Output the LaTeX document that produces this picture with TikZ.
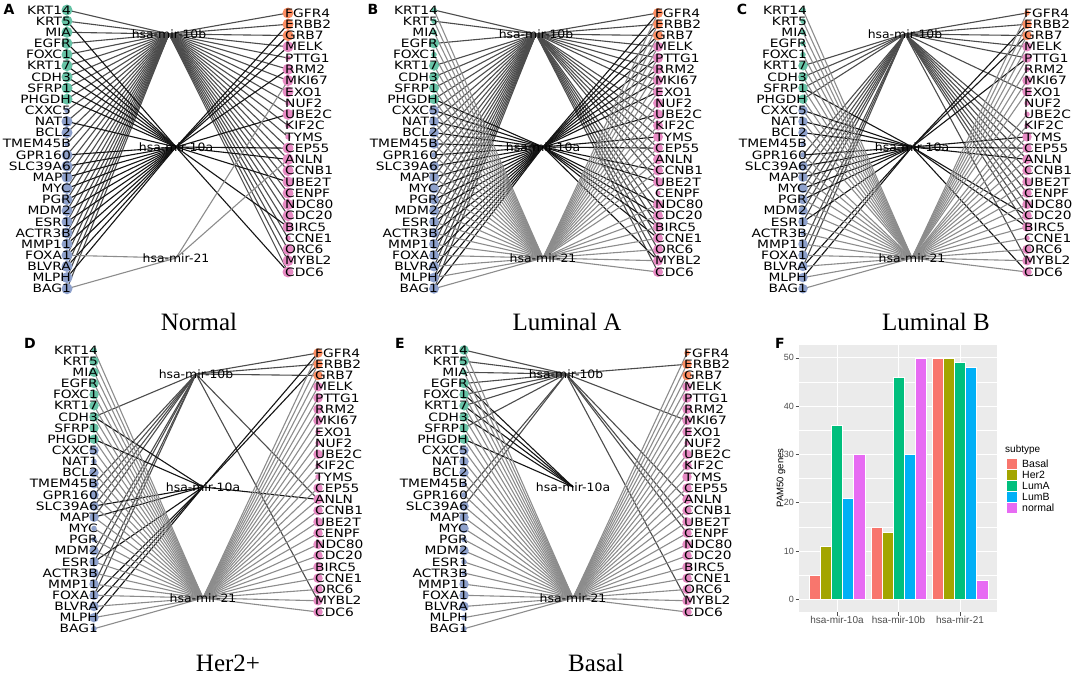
\documentclass[tikz,border=0pt]{standalone}
\usepackage{fontspec}
\usepackage{tikz}
\usetikzlibrary{positioning}
\setmainfont{Liberation Serif}
\newfontfamily\genefont[FakeStretch=1.2]{DejaVu Sans}
\newfontfamily\mirfont[FakeStretch=1.08]{DejaVu Sans}
\newfontfamily\plotfont{Liberation Sans}
\newfontfamily\tagfont{DejaVu Sans}

\definecolor{lgreen}{HTML}{66C2A5}
\definecolor{lblue}{HTML}{8DA0CB}
\definecolor{rorange}{HTML}{FC8D62}
\definecolor{rpink}{HTML}{E78AC3}
\definecolor{st0}{HTML}{F8766D}
\definecolor{st1}{HTML}{A3A500}
\definecolor{st2}{HTML}{00BF7D}
\definecolor{st3}{HTML}{00B0F6}
\definecolor{st4}{HTML}{E76BF3}
\definecolor{panelgray}{HTML}{EBEBEB}
\definecolor{axisgray}{HTML}{4D4D4D}

\pgfdeclarelayer{edges}
\pgfsetlayers{edges,main}

\tikzset{
  gene/.style={circle,inner sep=0pt,draw=none},
  glab/.style={font=\genefont\fontsize{11.5}{12}\selectfont,inner sep=0pt},
  mir/.style={font=\mirfont\fontsize{11.5}{12}\selectfont,inner sep=0pt},
  ttl/.style={font=\fontsize{25}{28}\selectfont,inner sep=0pt},
  tag/.style={font=\tagfont\bfseries\fontsize{14}{14}\selectfont,inner sep=0pt},
  e10b/.style={draw=black!70,line width=1.1pt},
  e10a/.style={draw=black!92,line width=1.1pt},
  e21/.style={draw=black!45,line width=1.1pt},
  tick/.style={font=\plotfont\fontsize{9}{10}\selectfont,text=axisgray,inner sep=0pt},
  key/.style={font=\plotfont\fontsize{10.5}{11}\selectfont,inner sep=0pt,anchor=west},
}

\def\allpam{KRT14,KRT5,MIA,EGFR,FOXC1,KRT17,CDH3,SFRP1,PHGDH,CXXC5,NAT1,BCL2,TMEM45B,GPR160,SLC39A6,MAPT,MYC,PGR,MDM2,ESR1,ACTR3B,MMP11,FOXA1,BLVRA,MLPH,BAG1,FGFR4,ERBB2,GRB7,MELK,PTTG1,RRM2,MKI67,EXO1,NUF2,UBE2C,KIF2C,TYMS,CEP55,ANLN,CCNB1,UBE2T,CENPF,NDC80,CDC20,BIRC5,CCNE1,ORC6,MYBL2,CDC6}

% genes drawn with a small dot in one subtype
\newcommand\marksmall[2]{\foreach \g in {#2} {\expandafter\gdef\csname pamsmall-#1-\g\endcsname{}}}
\newcommand\pickgsz[3]{\ifcsname pamsmall-#1-#2\endcsname\def\gsz{5.5pt}\else\def\gsz{#3}\fi}

% gene columns and the three miRNAs of one subtype
\newcommand\pamnodes[4]{%
\begin{scope}[shift={#2}]
  \foreach \g [count=\i from 0] in {KRT14,KRT5,MIA,EGFR,FOXC1,KRT17,CDH3,SFRP1,PHGDH} {
    \pickgsz{#1}{\g}{#4}
    \node[gene,fill=lgreen,minimum size=\gsz] (#1-\g) at (0,{10+11.15*\i}) {};}
  \foreach \g [count=\i from 9] in {CXXC5,NAT1,BCL2,TMEM45B,GPR160,SLC39A6,MAPT,MYC,PGR,MDM2,ESR1,ACTR3B,MMP11,FOXA1,BLVRA,MLPH,BAG1} {
    \pickgsz{#1}{\g}{#4}
    \node[gene,fill=lblue,minimum size=\gsz] (#1-\g) at (0,{10+11.15*\i}) {};}
  \foreach \g [count=\i from 0] in {FGFR4,ERBB2,GRB7} {
    \pickgsz{#1}{\g}{#4}
    \node[gene,fill=rorange,minimum size=\gsz] (#1-\g) at (#3,{13+11.26*\i}) {};}
  \foreach \g [count=\i from 3] in {MELK,PTTG1,RRM2,MKI67,EXO1,NUF2,UBE2C,KIF2C,TYMS,CEP55,ANLN,CCNB1,UBE2T,CENPF,NDC80,CDC20,BIRC5,CCNE1,ORC6,MYBL2,CDC6} {
    \pickgsz{#1}{\g}{#4}
    \node[gene,fill=rpink,minimum size=\gsz] (#1-\g) at (#3,{13+11.26*\i}) {};}
  \foreach \g in {KRT14,KRT5,MIA,EGFR,FOXC1,KRT17,CDH3,SFRP1,PHGDH,CXXC5,NAT1,BCL2,TMEM45B,GPR160,SLC39A6,MAPT,MYC,PGR,MDM2,ESR1,ACTR3B,MMP11,FOXA1,BLVRA,MLPH,BAG1}
    \node[glab,anchor=east] (#1-\g-t) at ([xshift=4pt]#1-\g.center) {\g};
  \foreach \g in {FGFR4,ERBB2,GRB7,MELK,PTTG1,RRM2,MKI67,EXO1,NUF2,UBE2C,KIF2C,TYMS,CEP55,ANLN,CCNB1,UBE2T,CENPF,NDC80,CDC20,BIRC5,CCNE1,ORC6,MYBL2,CDC6}
    \node[glab,anchor=west] (#1-\g-t) at ([xshift=-3pt]#1-\g.center) {\g};
  \node[mir] (#1-m10b) at (102,34) {hsa-mir-10b};
  \node[mir] (#1-m10a) at (109,147) {hsa-mir-10a};
  \node[mir] (#1-m21) at (109,258) {hsa-mir-21};
\end{scope}}

% links of one miRNA
\newcommand\pamedges[4]{%
\foreach \g in #4 {\draw[#3] (#1-\g.center) -- (#1-#2.center);}}

\marksmall{A}{CXXC5,TMEM45B,PTTG1,NUF2,KIF2C,TYMS,CCNE1}
\marksmall{B}{KRT14,KRT5,MIA,FOXC1,GPR160,CENPF}
\marksmall{C}{KRT14,KRT5,MIA,EGFR,FOXC1,TMEM45B,GPR160,ACTR3B,FGFR4,RRM2,NUF2,UBE2C,KIF2C,CCNE1}
\marksmall{D}{KRT14,NAT1,MYC,PGR,BAG1,EXO1,NUF2,KIF2C,TYMS}
\marksmall{E}{MIA,TMEM45B,GPR160,PGR,ESR1,ACTR3B,MLPH,BAG1,FGFR4,NUF2}

\begin{document}
\begin{tikzpicture}[x=1pt,y=-1pt]
\useasboundingbox (0,0) rectangle (1074,678);

\pamnodes{A}{(67,0)}{221}{11pt}
\pamnodes{B}{(434,0)}{224}{10pt}
\pamnodes{C}{(803,0)}{224}{9.5pt}
\pamnodes{D}{(94,340)}{224}{9.5pt}
\pamnodes{E}{(464,340)}{223}{9.5pt}

\begin{pgfonlayer}{edges}
% Normal
\pamedges{A}{m10b}{e10b}{\allpam}
\pamedges{A}{m10a}{e10a}{{KRT5,EGFR,FOXC1,KRT17,CDH3,SFRP1,PHGDH,NAT1,GPR160,SLC39A6,MAPT,MYC,PGR,MDM2,ESR1,ACTR3B,MMP11,FOXA1,BLVRA,MLPH,ERBB2,GRB7,MELK,RRM2,UBE2C,CEP55,ANLN,UBE2T,BIRC5,CDC6}}
\pamedges{A}{m21}{e21}{{FOXA1,BAG1,MKI67,ANLN}}
% Luminal A
\pamedges{B}{m10b}{e10b}{{KRT14,KRT5,EGFR,KRT17,CDH3,SFRP1,PHGDH,CXXC5,NAT1,BCL2,TMEM45B,GPR160,SLC39A6,MAPT,MYC,PGR,MDM2,ESR1,ACTR3B,MMP11,FOXA1,BLVRA,MLPH,BAG1,FGFR4,ERBB2,GRB7,MELK,PTTG1,RRM2,MKI67,EXO1,UBE2C,KIF2C,TYMS,CEP55,ANLN,CCNB1,UBE2T,NDC80,CDC20,BIRC5,CCNE1,ORC6,MYBL2,CDC6}}
\pamedges{B}{m10a}{e10a}{{PHGDH,CXXC5,NAT1,BCL2,TMEM45B,GPR160,SLC39A6,MAPT,MYC,PGR,MDM2,ESR1,ACTR3B,MMP11,FOXA1,BLVRA,MLPH,BAG1,FGFR4,ERBB2,GRB7,MELK,PTTG1,RRM2,MKI67,EXO1,UBE2C,TYMS,CEP55,CCNB1,UBE2T,NDC80,CDC20,BIRC5,CCNE1,MYBL2}}
\pamedges{B}{m21}{e21}{{KRT14,KRT5,MIA,EGFR,FOXC1,KRT17,CDH3,SFRP1,PHGDH,CXXC5,NAT1,BCL2,TMEM45B,GPR160,SLC39A6,MAPT,MYC,PGR,MDM2,ESR1,ACTR3B,MMP11,FOXA1,BLVRA,MLPH,BAG1,FGFR4,ERBB2,GRB7,MELK,PTTG1,RRM2,MKI67,EXO1,NUF2,UBE2C,KIF2C,TYMS,CEP55,ANLN,CCNB1,UBE2T,NDC80,CDC20,BIRC5,CCNE1,ORC6,MYBL2,CDC6}}
% Luminal B
\pamedges{C}{m10b}{e10b}{{KRT17,CDH3,SFRP1,PHGDH,GPR160,SLC39A6,MAPT,MYC,PGR,MDM2,ESR1,MMP11,FOXA1,BLVRA,FGFR4,ERBB2,GRB7,MELK,PTTG1,EXO1,TYMS,CEP55,ANLN,CCNB1,UBE2T,CENPF,NDC80,CDC20,BIRC5,MYBL2}}
\pamedges{C}{m10a}{e10a}{{SFRP1,CXXC5,NAT1,BCL2,GPR160,SLC39A6,MAPT,MYC,PGR,ESR1,BLVRA,MLPH,ERBB2,GRB7,PTTG1,TYMS,CEP55,ANLN,CDC20,BIRC5,CDC6}}
\pamedges{C}{m21}{e21}{{KRT14,KRT5,MIA,EGFR,FOXC1,KRT17,CDH3,SFRP1,PHGDH,CXXC5,NAT1,BCL2,GPR160,SLC39A6,MAPT,MYC,PGR,MDM2,ESR1,ACTR3B,MMP11,FOXA1,BLVRA,MLPH,BAG1,FGFR4,ERBB2,GRB7,MELK,PTTG1,RRM2,MKI67,EXO1,UBE2C,KIF2C,TYMS,CEP55,ANLN,CCNB1,UBE2T,CENPF,NDC80,CDC20,BIRC5,CCNE1,ORC6,MYBL2,CDC6}}
% Her2+
\pamedges{D}{m10b}{e10b}{{CDH3,TMEM45B,GPR160,SLC39A6,MAPT,MDM2,ESR1,MMP11,FOXA1,FGFR4,ERBB2,GRB7,ANLN,MYBL2}}
\pamedges{D}{m10a}{e10a}{{CDH3,PHGDH,SLC39A6,MAPT,ESR1,FOXA1,BLVRA,MLPH,FGFR4,ERBB2,ANLN}}
\pamedges{D}{m21}{e21}{\allpam}
% Basal
\pamedges{E}{m10b}{e10b}{{KRT14,KRT5,MIA,EGFR,FOXC1,KRT17,SFRP1,GPR160,SLC39A6,ERBB2,MKI67,ANLN,UBE2T,CENPF,MYBL2}}
\pamedges{E}{m10a}{e10a}{{EGFR,FOXC1,KRT17,CDH3,PHGDH}}
\pamedges{E}{m21}{e21}{\allpam}
\end{pgfonlayer}

% panel tags and subtype titles
\node[tag] (tagA) at (9,9) {A};
\node[tag] (tagB) at (373,9) {B};
\node[tag] (tagC) at (742,9) {C};
\node[tag] (tagD) at (30,343) {D};
\node[tag] (tagE) at (400,343) {E};
\node[tag] (tagF) at (780,343) {F};
\node[ttl] (ttlA) at (199,322) {Normal};
\node[ttl] (ttlB) at (567,322) {Luminal A};
\node[ttl] (ttlC) at (936,322) {Luminal B};
\node[ttl] (ttlD) at (228,663) {Her2+};
\node[ttl] (ttlE) at (596,663) {Basal};

% bar chart
\fill[panelgray] (799,345) rectangle (997,612);
\foreach \v in {5,15,...,45}
  \draw[white,line width=0.5pt] (799,{599.3-4.83*\v}) -- (997,{599.3-4.83*\v});
\foreach \v in {0,10,...,50} {
  \draw[white,line width=1pt] (799,{599.3-4.83*\v}) -- (997,{599.3-4.83*\v});
  \draw[axisgray,line width=0.5pt] (795.5,{599.3-4.83*\v}) -- (799,{599.3-4.83*\v});
  \node[tick,anchor=east] (y\v) at (794,{599.3-4.83*\v}) {\v};
}
\foreach \m [count=\j from 0] in {hsa-mir-10a,hsa-mir-10b,hsa-mir-21} {
  \draw[white,line width=1pt] ({837+61.5*\j},345) -- ({837+61.5*\j},612);
  \draw[axisgray,line width=0.5pt] ({837+61.5*\j},612) -- ({837+61.5*\j},615.5);
  \node[tick,anchor=north,font=\plotfont\fontsize{10}{11}\selectfont] (x\j) at ({837+61.5*\j},616) {\m};
}
\foreach \vals [count=\j from 0] in {{5,11,36,21,30},{15,14,46,30,50},{50,50,49,48,4}}
  \foreach \v [count=\k from 0] in \vals
    \filldraw[fill=st\k,draw=white,line width=0.3pt]
      ({837+61.5*\j-27.7+11.07*\k},599.3) rectangle ({837+61.5*\j-27.7+11.07*(\k+1)},{599.3-4.83*\v});
\node[tick,rotate=90,font=\plotfont\fontsize{9.5}{10}\selectfont,text=black] (ylab) at (781,478) {PAM50 genes};

% legend
\node[key,font=\plotfont\fontsize{10}{11}\selectfont] (subtype) at (1005,450) {subtype};
\foreach \s [count=\k from 0] in {Basal,Her2,LumA,LumB,normal} {
  \fill[st\k] (1007,{459+11*\k}) rectangle (1017,{469+11*\k});
  \node[key] (key\k) at (1022,{464+11*\k}) {\s};
}
\end{tikzpicture}
\end{document}
